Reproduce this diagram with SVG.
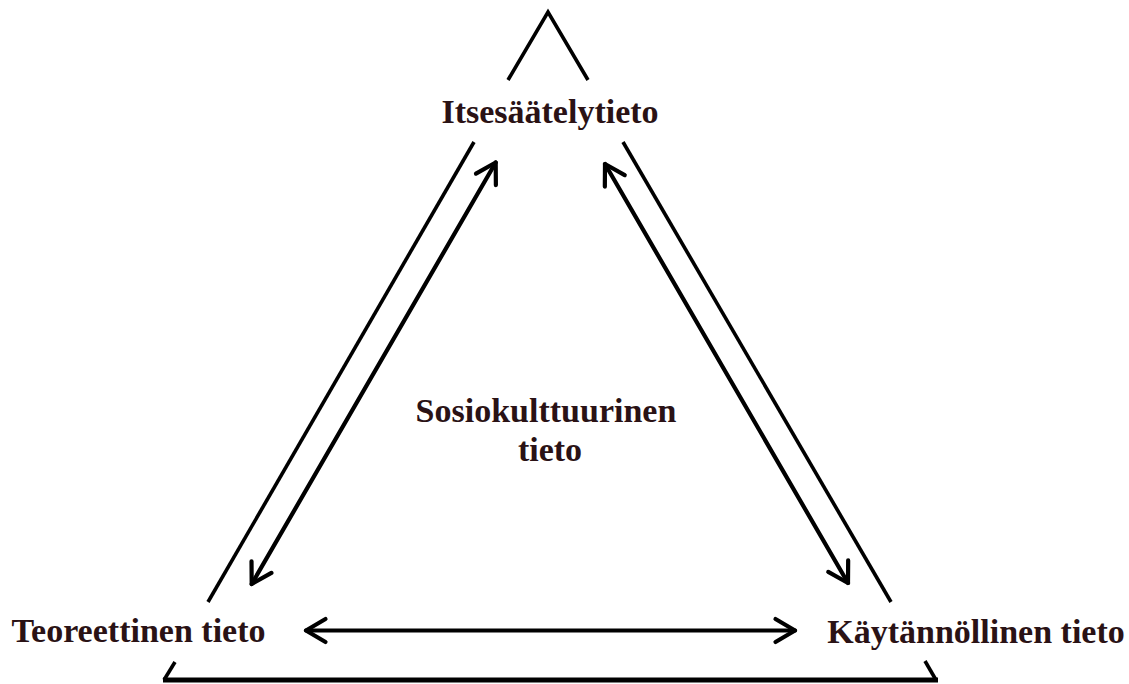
<svg xmlns="http://www.w3.org/2000/svg" width="1129" height="684" viewBox="0 0 1129 684">
<style>
.tri{fill:none;stroke:#000;stroke-width:3.6;stroke-linecap:butt;stroke-linejoin:miter}
.base{fill:none;stroke:#000;stroke-width:5}
.arr{fill:none;stroke:#000;stroke-width:4.2;stroke-linecap:round;marker-start:url(#chev);marker-end:url(#chev)}
.lbl{font-family:"Liberation Serif","Times New Roman",serif;font-weight:bold;font-size:34px;fill:#2a1215;text-anchor:middle}
</style>
<defs>
<marker id="chev" markerUnits="userSpaceOnUse" orient="auto-start-reverse" refX="0" refY="0" markerWidth="60" markerHeight="60" viewBox="-30 -30 60 60" overflow="visible">
<path d="M-19.5,-11.5 L0,0 L-19.5,11.5" fill="none" stroke="#000" stroke-width="4.2" stroke-linecap="round" stroke-linejoin="round"/>
</marker>
</defs>
<g id="triangle">
<polyline class="tri" points="508,80 548,12 588,80"/>
<line class="tri" x1="474" y1="142" x2="208" y2="602"/>
<line class="tri" x1="623" y1="142" x2="891" y2="602"/>
<polyline class="tri" points="175,662 164,680"/>
<polyline class="tri" points="925,661 936,680"/>
<line class="base" x1="163" y1="680" x2="938" y2="680"/>
</g>
<g id="connectors">
<line class="arr" x1="251.7" y1="584" x2="495.7" y2="162.5"/>
<line class="arr" x1="605" y1="164" x2="848" y2="583"/>
<line class="arr" x1="306" y1="630.5" x2="795" y2="630.5"/>
</g>
<g id="node-itsesaately"><text class="lbl" x="550" y="123">Itsesäätelytieto</text></g>
<g id="node-teoreettinen"><text class="lbl" x="138.5" y="642">Teoreettinen tieto</text></g>
<g id="node-kaytannollinen"><text class="lbl" x="976" y="643">Käytännöllinen tieto</text></g>
<g id="node-sosiokulttuurinen"><text class="lbl" x="546" y="421.5">Sosiokulttuurinen</text><text class="lbl" x="550" y="461">tieto</text></g>
</svg>
